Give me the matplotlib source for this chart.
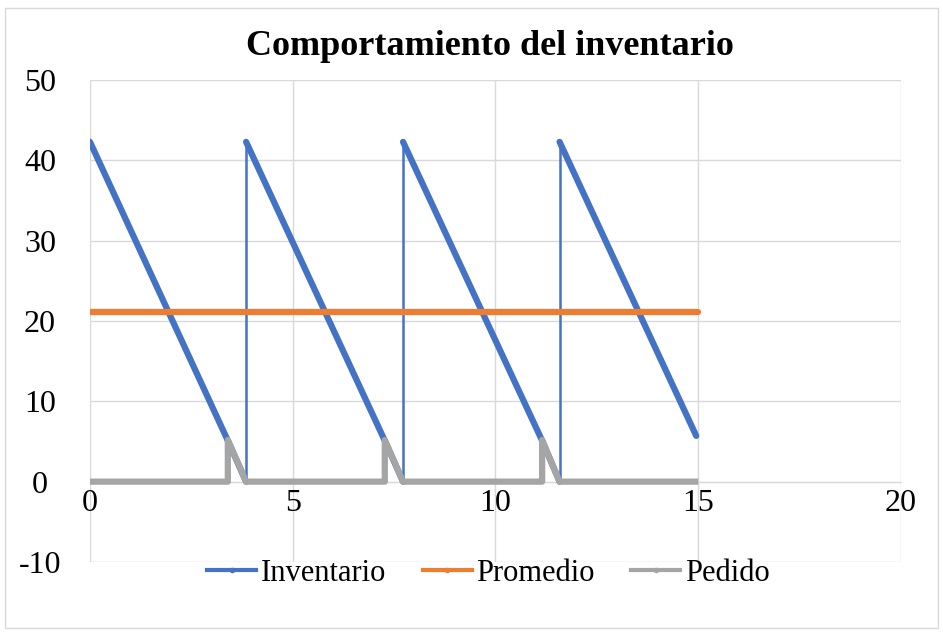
import matplotlib
matplotlib.use("Agg")
import matplotlib.pyplot as plt
from matplotlib.patches import Rectangle
from matplotlib.lines import Line2D

plt.rcParams['font.family'] = ['Liberation Serif', 'DejaVu Serif']
plt.rcParams['axes.unicode_minus'] = False

# Data
inv_x = [0, 3.40, 3.85, 3.85, 7.27, 7.72, 7.72, 11.15, 11.58, 11.58, 14.95]
inv_y = [42.3, 5.1, 0.0, 42.3, 5.1, 0.0, 42.3, 5.1, 0.0, 42.3, 5.7]
prom_x = [0, 15]
prom_y = [21.15, 21.15]
ped_x = [0, 3.40, 3.40, 3.85, 7.27, 7.27, 7.72, 11.15, 11.15, 11.58, 15]
ped_y = [0, 0, 5.2, 0, 0, 5.2, 0, 0, 5.2, 0, 0]

xticks = [0, 5, 10, 15, 20]
yticks = [-10, 0, 10, 20, 30, 40, 50]

BLUE = '#4472C4'
ORANGE = '#ED7D31'
GRAY = '#A5A5A5'
GRID = '#D9D9D9'

fig = plt.figure(figsize=(9.43, 6.33), dpi=100)
fig.patches.append(Rectangle((0.005, 0.008), 0.99, 0.98, transform=fig.transFigure,
                             fill=False, edgecolor='#D9D9D9', lw=1))
ax = fig.add_axes([0.0954, 0.1122, 0.8601, 0.7614])

# Inventory: thick descending segments, thin vertical replenishments
for i in range(len(inv_x) - 1):
    vertical = inv_x[i] == inv_x[i + 1]
    ax.plot(inv_x[i:i + 2], inv_y[i:i + 2], color=BLUE,
            lw=1.8 if vertical else 4.5, solid_capstyle='round', zorder=3)
ax.plot(prom_x, prom_y, color=ORANGE, lw=4.5, solid_capstyle='round', zorder=3)
ax.plot(ped_x, ped_y, color=GRAY, lw=4.5, solid_joinstyle='round', solid_capstyle='butt', zorder=4)

ax.set_xlim(0, 20)
ax.set_ylim(-10, 50)
ax.set_xticks(xticks)
ax.set_yticks(yticks)
ax.grid(True, color=GRID, lw=1)
ax.set_axisbelow(True)
for s in ['top', 'right', 'left']:
    ax.spines[s].set_visible(False)
ax.spines['bottom'].set_position(('data', 0))
ax.spines['bottom'].set_color(GRID)
ax.tick_params(length=0, labelsize=23)
ax.tick_params(axis='x', pad=5)
ax.tick_params(axis='y', pad=36)
for lab in ax.get_yticklabels():
    lab.set_horizontalalignment('center')

fig.text(0.52, 0.926, 'Comportamiento del inventario', ha='center', va='center',
         fontsize=26, fontweight='bold')

handles = [Line2D([], [], color=c, lw=3, marker='o', ms=3) for c in (BLUE, ORANGE, GRAY)]
fig.legend(handles, ['Inventario', 'Promedio', 'Pedido'], loc='center',
           bbox_to_anchor=(0.518, 0.094), ncol=3, frameon=False, fontsize=22,
           handlelength=1.6, handletextpad=0.15, columnspacing=1.2)

fig.savefig('out.png', dpi=100)
